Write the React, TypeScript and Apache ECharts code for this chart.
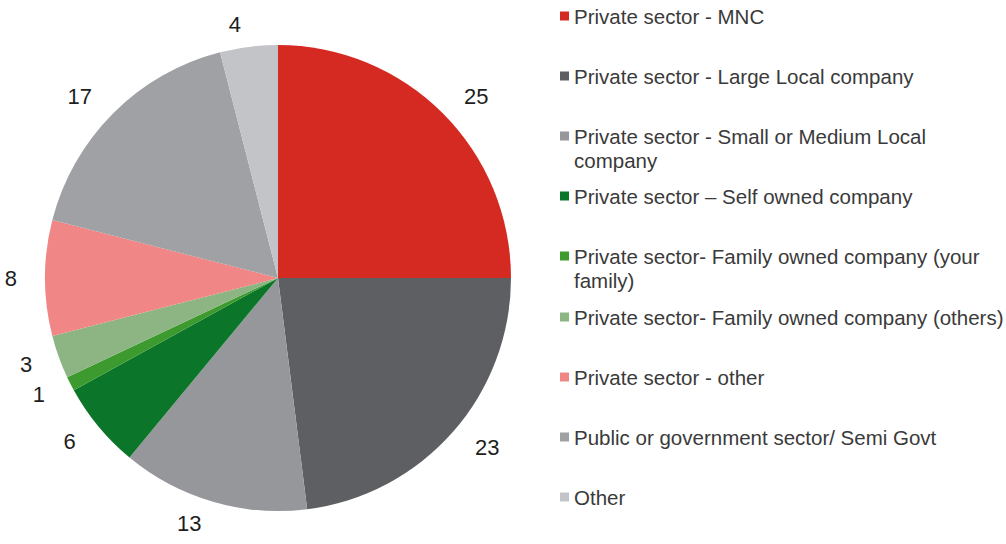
import React, { useEffect, useRef } from "react";
import * as echarts from "echarts";

const categories = [
  "Private sector - MNC",
  "Private sector - Large Local company",
  "Private sector - Small or Medium Local company",
  "Private sector – Self owned company",
  "Private sector- Family owned company (your family)",
  "Private sector- Family owned company (others)",
  "Private sector - other",
  "Public or government sector/ Semi Govt",
  "Other",
];
const legendText = [
  "Private sector - MNC",
  "Private sector - Large Local company",
  "Private sector - Small or Medium Local\ncompany",
  "Private sector – Self owned company",
  "Private sector- Family owned company (your\nfamily)",
  "Private sector- Family owned company (others)",
  "Private sector - other",
  "Public or government sector/ Semi Govt",
  "Other",
];
const values = [25, 23, 13, 6, 1, 3, 8, 17, 4];
const colors = [
  "#d42a22",
  "#5e5f63",
  "#96979b",
  "#0b7629",
  "#3c9a2f",
  "#8db584",
  "#f08686",
  "#a0a1a4",
  "#c3c4c8",
];

const FONT = "'Liberation Sans', Arial, Helvetica, sans-serif";
const LH = 24;

export default function App() {
  const ref = useRef<HTMLDivElement>(null);
  useEffect(() => {
    if (!ref.current) return;
    const chart = echarts.init(ref.current, null, { renderer: "svg" });
    const legends = categories.map((name, i) => {
      const twoLine = legendText[i].indexOf("\n") >= 0;
      const markerY = 16 + i * 60.1;
      // for two-line items, an empty leading line keeps the first line centred on the marker
      const shown = twoLine ? "\n" + legendText[i] : legendText[i];
      return {
        show: true,
        orient: "vertical",
        left: 560,
        top: Math.round(markerY - (twoLine ? LH * 1.5 : LH / 2)),
        padding: 0,
        itemWidth: 9,
        itemHeight: 9,
        itemGap: 0,
        icon: "rect",
        selectedMode: false,
        formatter: () => shown,
        textStyle: {
          fontFamily: FONT,
          fontSize: 20.5,
          color: "#3a3a3a",
          lineHeight: LH,
        },
        data: [name],
      };
    });
    chart.setOption({
      animation: false,
      color: colors,
      legend: legends,
      series: [
        {
          type: "pie",
          center: [278, 278],
          radius: [0, 233],
          startAngle: 90,
          clockwise: true,
          avoidLabelOverlap: false,
          itemStyle: { borderWidth: 0 },
          label: {
            show: true,
            position: "outside",
            formatter: "{c}",
            fontFamily: FONT,
            fontSize: 22,
            color: "#1e1e1e",
            distanceToLabelLine: 5,
          },
          labelLine: { show: false, length: 23, length2: 0 },
          emphasis: { disabled: true },
          data: categories.map((name, i) => ({ name, value: values[i] })),
        },
      ],
    });
    return () => chart.dispose();
  }, []);
  return (
    <div
      ref={ref}
      style={{ position: "fixed", left: 0, top: 0, width: 1006, height: 544, background: "#fff" }}
    />
  );
}
